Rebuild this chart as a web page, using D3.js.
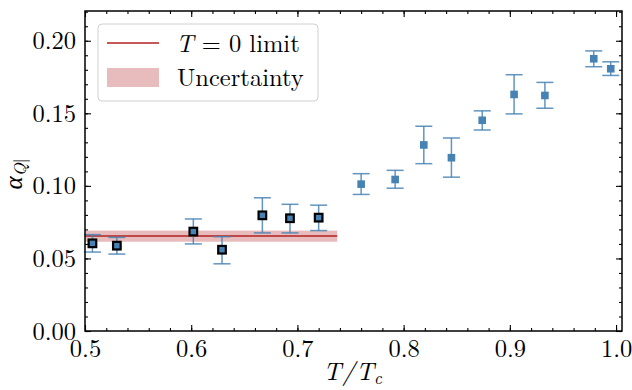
<!DOCTYPE html>
<html>
<head>
<meta charset="utf-8">
<script src="https://cdn.jsdelivr.net/npm/d3@7"></script>
<style>
  body { margin: 0; background: #fff; }
  text { font-family: "Latin Modern Roman", "Liberation Serif", serif; }
</style>
</head>
<body>
<svg width="632" height="390"></svg>
<script>
// data
const tRatio = [0.507, 0.530, 0.602, 0.629, 0.667, 0.693, 0.720, 0.760, 0.792, 0.819, 0.845, 0.874, 0.904, 0.933, 0.979, 0.995];
const alphaQ = [0.0604, 0.0588, 0.0685, 0.0560, 0.0797, 0.0777, 0.0781, 0.1012, 0.1044, 0.1282, 0.1194, 0.1452, 0.1630, 0.1623, 0.1876, 0.1807];
const errUp = [0.0664, 0.0645, 0.0772, 0.0650, 0.0918, 0.0873, 0.0867, 0.1084, 0.1107, 0.1411, 0.1330, 0.1517, 0.1766, 0.1713, 0.1930, 0.1855];
const errLo = [0.0544, 0.0530, 0.0600, 0.0463, 0.0676, 0.0676, 0.0692, 0.0941, 0.0984, 0.1153, 0.1060, 0.1385, 0.1496, 0.1535, 0.1821, 0.1761];
const edged = [1, 1, 1, 1, 1, 1, 1, 0, 0, 0, 0, 0, 0, 0, 0, 0];
const limitValue = 0.0655;
const limitBand = [0.0615, 0.0692];
const limitRange = [0.5, 0.7375];
const xTicks = [0.5, 0.6, 0.7, 0.8, 0.9, 1.0];
const yTicks = [0.00, 0.05, 0.10, 0.15, 0.20];

const margin = {top: 11, right: 10, bottom: 59, left: 85};
const width = 632 - margin.left - margin.right;
const height = 390 - margin.top - margin.bottom;

const svg = d3.select("svg");
const g = svg.append("g")
    .attr("transform", "translate(" + margin.left + "," + margin.top + ")");

const x = d3.scaleLinear().domain([0.5, 1.0056]).range([0, width]);
const y = d3.scaleLinear().domain([0, 0.2205]).range([height, 0]);

const blue = "#4682b4";
const red = "#b22222";

// T=0 limit band + line
g.append("rect")
    .attr("x", x(limitRange[0]))
    .attr("width", x(limitRange[1]) - x(limitRange[0]))
    .attr("y", y(limitBand[1]))
    .attr("height", y(limitBand[0]) - y(limitBand[1]))
    .attr("fill", red).attr("fill-opacity", 0.3);
g.append("line")
    .attr("x1", x(limitRange[0])).attr("x2", x(limitRange[1]))
    .attr("y1", y(limitValue)).attr("y2", y(limitValue))
    .attr("stroke", red).attr("stroke-width", 1.5);

// error bars
const pts = tRatio.map((t, i) => ({t: t, v: alphaQ[i], hi: errUp[i], lo: errLo[i], edge: edged[i]}));
const eb = g.selectAll(".err").data(pts).enter().append("g")
    .attr("stroke", blue).attr("stroke-width", 1.5).attr("stroke-opacity", 0.85);
eb.append("line")
    .attr("x1", d => x(d.t)).attr("x2", d => x(d.t))
    .attr("y1", d => y(d.hi)).attr("y2", d => y(d.lo));
eb.append("line")
    .attr("x1", d => x(d.t) - 8.5).attr("x2", d => x(d.t) + 8.5)
    .attr("y1", d => y(d.hi)).attr("y2", d => y(d.hi));
eb.append("line")
    .attr("x1", d => x(d.t) - 8.5).attr("x2", d => x(d.t) + 8.5)
    .attr("y1", d => y(d.lo)).attr("y2", d => y(d.lo));

// markers
g.selectAll(".pt").data(pts).enter().append("rect")
    .attr("x", d => x(d.t) - 3.8).attr("y", d => y(d.v) - 3.8)
    .attr("width", 7.6).attr("height", 7.6)
    .attr("fill", blue)
    .attr("stroke", d => d.edge ? "#000" : "none")
    .attr("stroke-width", 2.2);

// axes: ticks inward on all four sides
const xMinor = d3.range(0.5, 1.0001, 0.02);
const yMinor = d3.range(0, 0.2201, 0.01);
function tickAxis(axis, scale, vals, size, fmt) {
  return axis(scale).tickValues(vals).tickSize(-size).tickPadding(6 + size).tickFormat(fmt);
}
const none = () => "";
const fmtX = d3.format(".1f"), fmtY = d3.format(".2f");

const axes = [
  g.append("g").attr("transform", "translate(0," + height + ")").call(tickAxis(d3.axisBottom, x, xTicks, 6, fmtX)),
  g.append("g").attr("transform", "translate(0," + height + ")").call(tickAxis(d3.axisBottom, x, xMinor, 3, none)),
  g.append("g").call(tickAxis(d3.axisTop, x, xTicks, 6, none)),
  g.append("g").call(tickAxis(d3.axisTop, x, xMinor, 3, none)),
  g.append("g").call(tickAxis(d3.axisLeft, y, yTicks, 6, fmtY)),
  g.append("g").call(tickAxis(d3.axisLeft, y, yMinor, 3, none)),
  g.append("g").attr("transform", "translate(" + width + ",0)").call(tickAxis(d3.axisRight, y, yTicks, 6, none)),
  g.append("g").attr("transform", "translate(" + width + ",0)").call(tickAxis(d3.axisRight, y, yMinor, 3, none))
];
axes.forEach(a => {
  a.select(".domain").remove();
  a.selectAll(".tick line").attr("stroke", "#000").attr("stroke-width", 1.1);
  a.selectAll("text").attr("font-size", 24.5).attr("fill", "#000")
      .style("font-family", "'Latin Modern Roman', 'Liberation Serif', serif");
});
axes[0].selectAll("text").attr("dy", "0.71em").attr("y", 8.5);
axes[4].selectAll("text").attr("x", -9).attr("dy", "0.33em");

g.append("rect").attr("width", width).attr("height", height)
    .attr("fill", "none").attr("stroke", "#000").attr("stroke-width", 1.5);

// axis labels
const xl = svg.append("text")
    .attr("x", margin.left + width / 2 - 1).attr("y", 380)
    .attr("text-anchor", "middle").attr("font-size", 25).attr("font-style", "italic");
xl.append("tspan").text("T");
xl.append("tspan").attr("dx", 1).text("/");
xl.append("tspan").attr("dx", 1).text("T");
xl.append("tspan").attr("font-size", 17).attr("dy", 4).text("c");

const yl = svg.append("text")
    .attr("transform", "translate(22,174) rotate(-90)")
    .attr("text-anchor", "middle").attr("font-size", 25).attr("font-style", "italic");
yl.append("tspan").style("font-family", "'Liberation Serif', serif").text("α");
yl.append("tspan").attr("font-size", 17).attr("dy", 4).text("Q");
yl.append("tspan").attr("font-size", 17).attr("font-style", "normal").text("|");

// legend
const leg = svg.append("g").attr("transform", "translate(98,24)");
leg.append("rect").attr("width", 220).attr("height", 77).attr("rx", 4)
    .attr("fill", "#fff").attr("fill-opacity", 0.8).attr("stroke", "#d0d0d0");
leg.append("line").attr("x1", 9).attr("x2", 61).attr("y1", 19).attr("y2", 19)
    .attr("stroke", red).attr("stroke-width", 1.5);
leg.append("rect").attr("x", 9).attr("y", 44).attr("width", 52).attr("height", 19)
    .attr("fill", red).attr("fill-opacity", 0.3);
const t0 = leg.append("text").attr("x", 78).attr("y", 28).attr("font-size", 24.5);
t0.append("tspan").attr("font-style", "italic").text("T");
t0.append("tspan").text(" = 0 limit");
leg.append("text").attr("x", 79).attr("y", 62).attr("font-size", 24.5)
    .text("Uncertainty");
</script>
</body>
</html>
